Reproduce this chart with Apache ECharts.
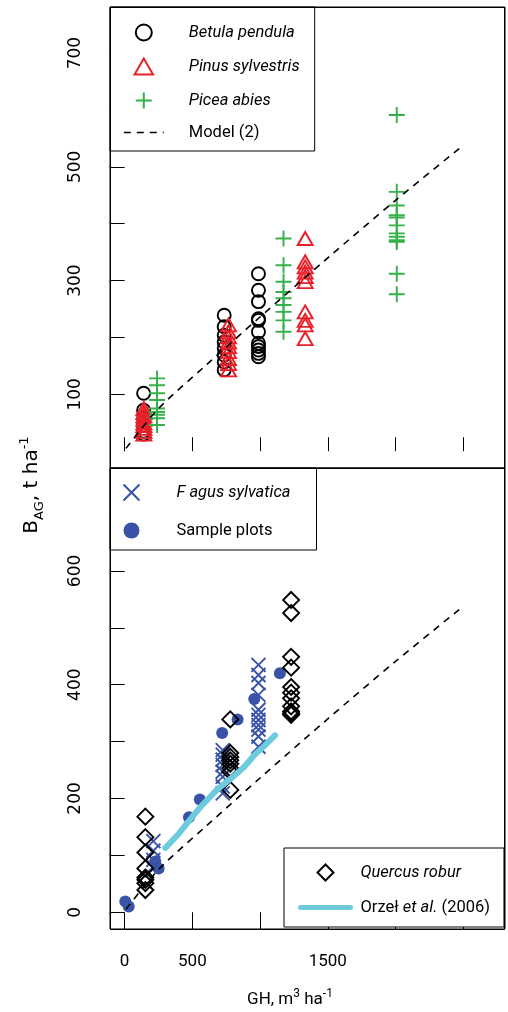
<!DOCTYPE html>
<html>
<head>
<meta charset="utf-8">
<script src="https://cdn.jsdelivr.net/npm/echarts@6/dist/echarts.min.js"></script>
<style>
html,body{margin:0;padding:0;background:#fff}
#main{width:508px;height:1012px}
</style>
</head>
<body>
<div id="main"></div>
<script>
// 数据 (GH, BAG)
var betula = [[140,102],[140,72],[140,58],[140,45],[140,35],[140,30],
  [735,239],[735,219],[735,204],[735,192],[735,181],[735,169],[735,157],[735,143],
  [988,312],[988,283],[988,263],[988,233],[988,230],[988,210],[988,190],[988,184],[988,178],[988,172],[988,166]];
var pinus = [[142,75],[142,68],[142,62],[142,56],[142,50],[142,45],[142,40],[142,35],[142,30],
  [767,222],[767,210],[767,201],[767,192],[767,184],[767,175],[767,163],[767,154],[767,143],
  [1333,374],[1333,333],[1333,324],[1333,315],[1333,307],[1333,298],[1333,245],[1333,230],[1333,222],[1333,198]];
var picea = [[239,128],[239,116],[239,102],[239,90],[239,75],[239,69],[239,64],[239,58],[239,46],
  [1173,374],[1173,327],[1173,298],[1173,280],[1173,269],[1173,257],[1173,245],[1173,230],[1173,210],
  [2009,591],[2009,456],[2009,432],[2009,415],[2009,411],[2009,397],[2009,383],[2009,377],[2009,371],[2009,368],[2009,312],[2009,276]];
var fagus = [[212,125],[212,108],[212,92],[212,80],
  [724,285],[724,277],[724,268],[724,259],[724,247],[724,238],[724,221],[724,209],
  [988,435],[988,417],[988,403],[988,382],[988,356],[988,347],[988,338],[988,329],[988,321],[988,309],[988,291]];
var samplePlots = [[5,19],[30,10],[226,89],[251,77],[475,167],[555,198],[720,315],[834,339],[957,375],[1146,420]];
var quercus = [[153,168],[153,132],[153,105],[153,77],[153,61],[153,57],[153,51],[153,39],
  [780,339],[780,280],[780,273],[780,267],[780,261],[780,253],[780,247],[780,215],
  [1229,549],[1229,526],[1229,449],[1229,430],[1229,396],[1229,386],[1229,376],[1229,362],[1229,353],[1229,350],[1229,347]];
var modelLine = [[10,5],[250,75],[600,151],[1000,236],[1500,340],[2000,441],[2500,538]];
var orzel = [[300,113],[400,138],[490,165],[560,185],[680,215],[800,238],[880,255],[960,277],[1030,292],[1110,311]];

var xTicks = [0,500,1000,1500,2000,2500];
var xLabels = [0,500,1500];
var yTicksTop = [100,200,300,400,500,600,700];
var yLabelsTop = [100,300,500,700];
var yTicksBottom = [0,100,200,300,400,500,600,700];
var yLabelsBottom = [0,200,400,600];

var NARROW = "Roboto,'Noto Sans',sans-serif";
var WIDE = "'DejaVu Sans',sans-serif";

var RED = '#e8202a', GREEN = '#35b04a', BLUE = '#3953a6', CYAN = '#6ccbdc';
var PLUS = 'path://M0,5L10,5M5,0L5,10';
var CROSS = 'path://M0,0L10,10M0,10L10,0';
var TRI = 'path://M0,8.66L5,0L10,8.66Z';
var DIAMOND = 'path://M5,0L10,5L5,10L0,5Z';

var chart = echarts.init(document.getElementById('main'));

function xAx(gi, bottom){
  return {
    type:'value', gridIndex:gi, min:-108, max:2808,
    axisLine:{show:false}, splitLine:{show:false},
    axisTick:{show:true, customValues:xTicks, inside:!bottom, length:bottom?17:14, lineStyle:{color:'#000',width:1}},
    axisLabel:{show:bottom, customValues:xLabels, margin:24, color:'#000', fontSize:17, fontFamily:NARROW,
      formatter:function(v){ return String(v); }}
  };
}
function yAx(gi, ticks, labels){
  return {
    type:'value', gridIndex:gi, min:-29.5, max:781,
    axisLine:{show:false}, splitLine:{show:false},
    axisTick:{show:true, customValues:ticks, length:15, lineStyle:{color:'#000',width:1}},
    axisLabel:{customValues:labels, rotate:90, margin:26, color:'#000', fontSize:17, fontFamily:WIDE,
      formatter:function(v){ return String(v); }}
  };
}
function scat(name, data, gi, symbol, size, color, filled){
  return {
    name:name, type:'scatter', xAxisIndex:gi, yAxisIndex:gi, data:data,
    symbol:symbol, symbolSize:size,
    itemStyle: filled ? {color:color, opacity:1} : {color:'none', borderColor:color, borderWidth:1.9, opacity:1}
  };
}
function fmt(name){
  if (name === 'Orzeł et al. (2006)') return '{n|Orzeł }{i|et al.}{n| (2006)}';
  if (name === 'Model (2)' || name === 'Sample plots') return '{n|' + name + '}';
  return '{i|' + name + '}';
}
var rich = {
  n:{fontSize:16.5, fontFamily:NARROW, color:'#000', lineHeight:16},
  i:{fontSize:16.5, fontFamily:NARROW, fontStyle:'italic', color:'#000', lineHeight:16}
};
function legendBox(extra){
  var base = {orient:'vertical', itemHeight:16, borderColor:'#000', borderWidth:1, borderRadius:0,
    backgroundColor:'#fff', selectedMode:false, symbolKeepAspect:true, formatter:fmt};
  for (var k in extra) base[k] = extra[k];
  return base;
}

var option = {
  animation:false,
  backgroundColor:'#fff',
  grid:[
    {left:110, top:7, width:395, height:461, show:true, borderColor:'#000', borderWidth:1},
    {left:110, top:468, width:395, height:461, show:true, borderColor:'#000', borderWidth:1}
  ],
  xAxis:[xAx(0,false), xAx(1,true)],
  yAxis:[yAx(0,yTicksTop,yLabelsTop), yAx(1,yTicksBottom,yLabelsBottom)],
  legend:[
    legendBox({data:['Betula pendula','Pinus sylvestris','Picea abies',
        {name:'Model (2)', lineStyle:{width:1.6}}],
      left:110, top:7, itemWidth:40, itemGap:13, padding:[15,15,10,13],
      textStyle:{padding:[0,0,0,20], rich:rich}}),
    legendBox({data:['F agus sylvatica','Sample plots'],
      left:110, top:468, itemWidth:40, itemGap:19, padding:[14,26,11,11],
      textStyle:{padding:[0,0,0,20], rich:rich}}),
    legendBox({data:['Quercus robur', {name:'Orzeł et al. (2006)', lineStyle:{width:5}}],
      left:284, top:848, itemWidth:50, itemGap:16, padding:[14,14,11,14],
      textStyle:{padding:[0,0,0,5], rich:rich}})
  ],
  series:[
    {name:'Model (2)', type:'line', xAxisIndex:0, yAxisIndex:0, data:modelLine, symbol:'none', smooth:0.3,
     lineStyle:{color:'#000', width:1.6, type:[7,6]}, itemStyle:{color:'transparent'}},
    scat('Betula pendula', betula, 0, 'circle', 13, '#000', false),
    scat('Pinus sylvestris', pinus, 0, TRI, [15,13], RED, false),
    scat('Picea abies', picea, 0, PLUS, 16, GREEN, false),
    {name:'Model (2)', type:'line', xAxisIndex:1, yAxisIndex:1, data:modelLine, symbol:'none', smooth:0.3,
     lineStyle:{color:'#000', width:1.6, type:[7,6]}, itemStyle:{color:'transparent'}},
    {name:'Orzeł et al. (2006)', type:'line', xAxisIndex:1, yAxisIndex:1, data:orzel, symbol:'none',
     lineStyle:{color:CYAN, width:6, cap:'round'}, itemStyle:{color:'transparent'}},
    scat('F agus sylvatica', fagus, 1, CROSS, 14, BLUE, false),
    scat('Sample plots', samplePlots, 1, 'circle', 12, BLUE, true),
    scat('Quercus robur', quercus, 1, DIAMOND, 16, '#000', false)
  ],
  graphic:[
    {type:'rect', z:100, silent:true, shape:{x:110.5, y:7.5, width:394, height:461}, style:{fill:'none', stroke:'#000', lineWidth:1}},
    {type:'rect', z:100, silent:true, shape:{x:110.5, y:468.5, width:394, height:461}, style:{fill:'none', stroke:'#000', lineWidth:1}},
    {type:'text', x:32, y:485, rotation:Math.PI/2,
     style:{text:'{b|B}{s|AG}{b|, t ha}{p|-1}', align:'center', verticalAlign:'middle',
       rich:{b:{fontSize:20, fontFamily:WIDE, lineHeight:28, fill:'#000'},
             s:{fontSize:13, fontFamily:WIDE, lineHeight:13, verticalAlign:'bottom', fill:'#000'},
             p:{fontSize:13, fontFamily:WIDE, lineHeight:13, verticalAlign:'top', fill:'#000'}}}},
    {type:'text', x:290, y:1000,
     style:{text:'{b|GH, m}{p|3}{b| ha}{p|-1}', align:'center', verticalAlign:'middle',
       rich:{b:{fontSize:17, fontFamily:NARROW, lineHeight:24, fill:'#000'},
             p:{fontSize:12, fontFamily:NARROW, lineHeight:12, verticalAlign:'top', fill:'#000'}}}}
  ]
};
chart.setOption(option);
</script>
</body>
</html>
